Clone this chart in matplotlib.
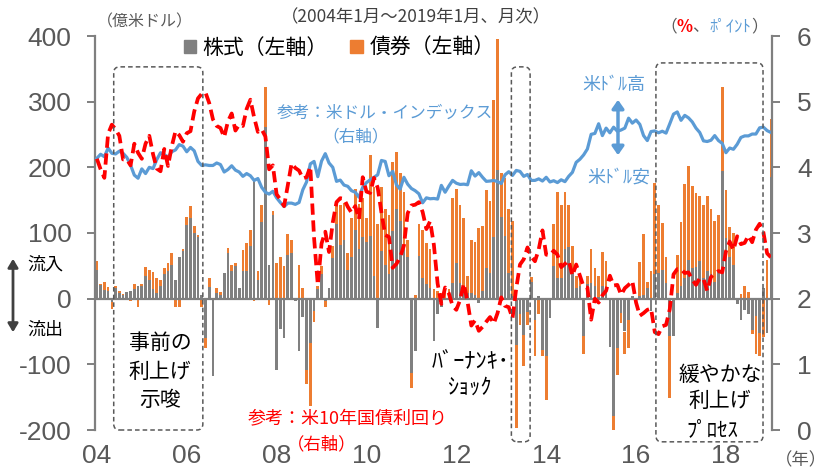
import numpy as np
import matplotlib
matplotlib.use('Agg')
import matplotlib.pyplot as plt
from matplotlib.patches import FancyBboxPatch, Patch

plt.rcParams['font.family'] = ['Noto Sans CJK JP', 'DejaVu Sans']
plt.rcParams['axes.unicode_minus'] = False

# monthly flows, Jan 2004 - Jan 2019 (100 million USD)
stock = [
    44, 21, 13, 11, -5, 16, 9, 6, 10, 12, 15, 19,
    20, 34, 29, 14, 9, 19, 37, 42, 51, 28, 64, 72,
    112, 123, 100, 94, 6, -60, 18, -118, 9, 6, 39, 70,
    42, 49, 16, 42, 42, 80, 180, 29, 117, 262, 52, 128,
    -108, -46, -60, 66, 70, -3, -80, -28, -108, -68, -19, 14,
    37, -3, 17, 62, 114, 81, 89, 44, 64, 105, 75, 94,
    86, 96, 34, -45, 73, 52, 38, 103, 137, 119, 75, 63,
    -113, -80, 65, 31, 22, 16, -65, -24, -12, 0, 5, 24,
    54, 24, 16, 9, 9, 6, -7, 12, 47, 39, 94, 196,
    124, 96, 39, 4, -70, -24, -55, -20, 26, -32, 4, -78,
    -88, -29, 49, 31, 31, 76, 79, 39, 16, 19, -57, 23,
    24, 19, 3, 19, 9, -73, -179, -75, -22, -50, -32, 4,
    -6, 4, 6, 16, -19, 37, 39, 44, 24, -57, -57, 9,
    20, 31, 59, 47, 48, 57, 31, 42, 38, 26, 40, 194,
    92, 64, 52, -8, -32, -17, -24, -47, -27, -52, 17, -52,
    186,
]
bond = [
    14, 2, 12, 7, -10, 4, 3, 1, 0, -3, 7, -12,
    3, 14, 14, 27, 22, 10, 10, 12, 19, -13, -13, 3,
    13, 18, 10, 3, -13, -15, 13, 0, 7, 4, 0, 7,
    10, 5, 0, 32, 43, 24, -3, 13, 26, 60, -9, 6,
    54, 63, 49, 33, 19, 0, 52, 17, -22, -96, -16, 5,
    12, -10, 0, 18, 32, 61, 57, 26, 59, 62, 69, 60,
    37, 123, 136, 114, 97, 84, 90, 105, 86, 72, 87, 26,
    -23, 6, 48, 73, 63, 59, 14, 11, 9, 11, 9, 129,
    113, 119, 107, 25, 80, 80, 108, 99, 119, 110, 209, 199,
    68, 88, 97, 114, -127, -16, -48, -20, 7, -56, -24, -9,
    -66, 0, 64, 132, 112, 87, 63, 41, 18, 15, -28, 11,
    52, 28, 31, 52, 48, 0, -23, -41, -15, -35, -43, 0,
    0, 52, 92, 9, 42, 139, 103, 71, 39, -94, 0, 58,
    96, 143, 143, 124, 113, 99, 112, 115, 98, 93, 88, 129,
    74, 45, 48, 0, 7, 19, 10, -7, -58, -35, -59, 59,
    87,
]
# US 10y yield (%)
yield10 = [
    4.13, 3.97, 3.84, 4.51, 4.65, 4.58, 4.48, 4.12, 4.12, 4.03, 4.36, 4.22,
    4.13, 4.36, 4.48, 4.20, 3.98, 3.94, 4.28, 4.02, 4.32, 4.55, 4.49, 4.39,
    4.52, 4.55, 4.85, 5.05, 5.12, 5.14, 4.98, 4.73, 4.63, 4.60, 4.46, 4.70,
    4.82, 4.56, 4.65, 4.63, 4.89, 5.03, 4.76, 4.54, 4.58, 4.47, 3.97, 4.03,
    3.59, 3.51, 3.41, 3.73, 4.06, 3.99, 3.95, 3.83, 3.85, 4.01, 2.93, 2.21,
    2.84, 3.02, 2.71, 3.16, 3.47, 3.53, 3.52, 3.40, 3.31, 3.41, 3.21, 3.85,
    3.63, 3.61, 3.84, 3.69, 3.31, 2.97, 2.94, 2.47, 2.53, 2.63, 2.81, 3.30,
    3.42, 3.43, 3.47, 3.32, 3.06, 3.18, 2.82, 2.23, 1.92, 2.17, 2.08, 1.89,
    1.83, 1.98, 2.23, 1.95, 1.59, 1.67, 1.51, 1.57, 1.65, 1.72, 1.62, 1.78,
    2.02, 1.89, 1.87, 1.70, 2.16, 2.52, 2.60, 2.78, 2.64, 2.57, 2.75, 3.04,
    2.67, 2.66, 2.73, 2.67, 2.48, 2.53, 2.58, 2.35, 2.52, 2.35, 2.18, 2.17,
    1.68, 2.00, 1.94, 2.05, 2.12, 2.35, 2.20, 2.21, 2.06, 2.16, 2.21, 2.27,
    1.94, 1.74, 1.78, 1.83, 1.85, 1.49, 1.46, 1.58, 1.60, 1.84, 2.37, 2.45,
    2.45, 2.39, 2.40, 2.29, 2.21, 2.31, 2.30, 2.12, 2.33, 2.38, 2.42, 2.40,
    2.72, 2.87, 2.74, 2.95, 2.83, 2.85, 2.96, 2.86, 3.05, 3.14, 3.01, 2.69,
    2.63,
]
# dollar index (points)
dxy = [
    87.3, 88.6, 87.8, 90.6, 88.9, 88.7, 89.6, 88.9, 87.6, 85.1, 81.9, 80.9,
    83.9, 82.4, 84.4, 84.0, 86.9, 89.1, 88.5, 87.6, 89.4, 90.0, 91.7, 91.2,
    89.4, 90.8, 89.7, 86.3, 85.0, 85.2, 85.0, 85.0, 85.8, 85.3, 82.9, 83.7,
    84.9, 83.5, 82.9, 81.5, 82.4, 81.7, 80.2, 80.8, 78.0, 76.4, 75.8, 76.7,
    74.6, 73.1, 71.8, 72.9, 72.9, 72.5, 73.1, 77.2, 79.7, 85.5, 86.3, 81.4,
    86.4, 88.8, 85.8, 84.4, 79.9, 80.3, 78.7, 78.3, 76.9, 76.4, 74.8, 78.0,
    79.5, 80.4, 81.2, 82.0, 86.6, 86.3, 81.7, 83.1, 78.8, 77.4, 81.2, 79.0,
    77.6, 76.9, 75.9, 73.0, 74.6, 74.3, 74.4, 74.2, 78.6, 76.4, 78.4, 80.2,
    79.3, 78.9, 79.0, 78.8, 83.3, 81.6, 82.7, 81.2, 79.9, 80.0, 80.2, 79.8,
    79.2, 82.0, 83.0, 81.8, 83.4, 83.1, 81.5, 82.1, 80.2, 80.2, 80.7, 80.0,
    81.2, 79.7, 80.1, 79.5, 80.4, 79.8, 81.5, 82.8, 86.0, 87.0, 88.4, 90.3,
    95.0, 95.3, 98.4, 94.6, 97.0, 95.5, 97.3, 96.0, 96.4, 97.0, 100.2, 98.6,
    99.6, 98.2, 94.6, 93.0, 95.9, 96.1, 95.5, 96.0, 95.4, 98.4, 101.5, 102.2,
    99.5, 101.1, 100.3, 99.0, 97.0, 95.6, 92.9, 92.7, 93.1, 94.6, 93.0, 92.1,
    89.1, 90.6, 90.2, 91.8, 94.0, 94.5, 94.5, 95.1, 95.1, 97.1, 97.3, 96.2,
    95.6,
]
year_labels = ['04', '06', '08', '10', '12', '14', '16', '18']

GRAY = '#808080'
ORANGE = '#ED7D31'
BLUE = '#5B9BD5'
RED = '#FF0000'
AX = '#7F7F7F'
TXT = '#595959'
NUM = 'Liberation Sans'

W, H = 829, 470


def px(x, y):
    # figure-pixel position (from top-left) -> figure fraction
    return x / W, 1 - y / H


fig = plt.figure(figsize=(W / 100, H / 100), dpi=100)
ax = fig.add_axes([95 / W, 40 / H, 677 / W, 394 / H])

months = np.arange(len(stock))
s = np.array(stock)
b = np.array(bond)
bottom = np.where(np.sign(b) == np.sign(s), s, 0)
ax.bar(months, s, width=0.72, color=GRAY, zorder=2)
ax.bar(months, b, bottom=bottom, width=0.72, color=ORANGE, zorder=2)
ax.axhline(0, color=AX, lw=1.6, zorder=3)

ax.set_xlim(-0.5, 180.3)
ax.set_ylim(-200, 400)
ax.set_yticks(range(-200, 401, 100))
ax.set_xticks(range(0, 169, 24))
ax.set_xticklabels(year_labels)
for sp in ['top', 'right', 'bottom']:
    ax.spines[sp].set_visible(False)
ax.spines['left'].set_color(AX)
ax.spines['left'].set_linewidth(1.6)
ax.tick_params(axis='y', length=6, width=1.4, color=AX, pad=11,
               labelsize=19, labelcolor=TXT)
ax.tick_params(axis='x', length=0, pad=10, labelsize=19, labelcolor=TXT)
for lab in ax.get_yticklabels() + ax.get_xticklabels():
    lab.set_fontfamily(NUM)

# dollar index on its own hidden scale
ax3 = ax.twinx()
ax3.set_ylim(0, 126.6)
ax3.axis('off')
ax3.plot(months, dxy, color=BLUE, lw=2.3, solid_joinstyle='round')

ax2 = ax.twinx()
ax2.set_ylim(0, 6)
ax2.set_yticks(range(0, 7))
ax2.plot(months, yield10, color=RED, lw=2.7, dashes=(3, 1.5))
for sp in ['top', 'left', 'bottom']:
    ax2.spines[sp].set_visible(False)
ax2.spines['right'].set_color(AX)
ax2.spines['right'].set_linewidth(1.6)
ax2.tick_params(axis='y', length=6, width=1.4, color=AX, pad=12,
                labelsize=19, labelcolor=TXT)
for lab in ax2.get_yticklabels():
    lab.set_fontfamily(NUM)

# dashed period boxes (data coords)
for x0, x1, y0, y1 in [(4.5, 28.3, -200, 353), (110.7, 115.7, -218, 353),
                       (149.3, 177.9, -218, 359)]:
    box = FancyBboxPatch((x0, y0), x1 - x0, y1 - y0,
                         boxstyle='round,pad=0,rounding_size=1.6',
                         mutation_aspect=5.7, fc='none', ec='#595959',
                         lw=1.1, ls=(0, (3, 2)), clip_on=False, zorder=5,
                         transform=ax.transData)
    ax2.add_patch(box)

# legend
handles = [Patch(color=GRAY, label='株式（左軸）'),
           Patch(color=ORANGE, label='債券（左軸）')]
fig.legend(handles=handles, loc='center', bbox_to_anchor=px(339, 48),
           ncol=2, frameon=False, fontsize=15, handlelength=0.6,
           handleheight=0.6, handletextpad=0.3, columnspacing=1.1)

# texts
fig.text(*px(416, 17), '（2004年1月～2019年1月、月次）', ha='center',
         va='center', fontsize=12.5, color='#404040')
fig.text(*px(145, 22), '（億米ドル）', ha='center', va='center',
         fontsize=11.5, color=TXT)

# right-axis unit label, pieces chained one after another
parts = [('%', RED, 'bold'), ('、', TXT, 'normal'),
         ('ﾎﾟｲﾝﾄ', BLUE, 'normal'), ('）', TXT, 'normal')]
prev = fig.text(*px(660, 27), '（', ha='left', va='center', fontsize=12,
                color=TXT)
for piece, col, wt in parts:
    prev = ax2.annotate(piece, xy=(1, 0), xycoords=prev, ha='left',
                        va='bottom', fontsize=12, color=col, fontweight=wt,
                        annotation_clip=False)

fig.text(*px(385, 113), '参考：米ドル・インデックス', ha='center', va='center',
         fontsize=12, color=BLUE)
fig.text(*px(356, 137), '（右軸）', ha='center', va='center', fontsize=12,
         color=BLUE)
fig.text(*px(614, 85), '米ﾄﾞﾙ高', ha='center', va='center', fontsize=13,
         color=BLUE)
fig.text(*px(619, 178), '米ﾄﾞﾙ安', ha='center', va='center', fontsize=13,
         color=BLUE)
fig.add_artist(plt.Annotation('', xy=px(618, 97), xytext=px(618, 158),
                              xycoords='figure fraction',
                              textcoords='figure fraction',
                              arrowprops=dict(arrowstyle='<|-|>,head_length=0.5,head_width=0.35',
                                              color=BLUE, lw=2.5)))

fig.text(*px(45, 265), '流入', ha='center', va='center', fontsize=13,
         color='black')
fig.text(*px(45, 330), '流出', ha='center', va='center', fontsize=13,
         color='black')
fig.add_artist(plt.Annotation('', xy=px(13, 256), xytext=px(13, 335),
                              xycoords='figure fraction',
                              textcoords='figure fraction',
                              arrowprops=dict(arrowstyle='<|-|>,head_length=0.5,head_width=0.3',
                                              color='#404040', lw=2)))

fig.text(*px(348, 418), '参考：米10年国債利回り', ha='center', va='center',
         fontsize=13, color=RED)
fig.text(*px(322, 444), '（右軸）', ha='center', va='center', fontsize=12.5,
         color=RED)

fig.text(*px(160, 343), '事前の', ha='center', va='center', fontsize=15)
fig.text(*px(160, 372), '利上げ', ha='center', va='center', fontsize=15)
fig.text(*px(160, 400), '示唆', ha='center', va='center', fontsize=15)

fig.text(*px(471, 362), 'ﾊﾞｰﾅﾝｷ･', ha='center', va='center', fontsize=16)
fig.text(*px(470, 387), 'ｼｮｯｸ', ha='center', va='center', fontsize=16)

fig.text(*px(720, 375), '緩やかな', ha='center', va='center', fontsize=15)
fig.text(*px(720, 401), '利上げ', ha='center', va='center', fontsize=15)
fig.text(*px(712, 430), 'ﾌﾟﾛｾｽ', ha='center', va='center', fontsize=15)

fig.text(*px(827, 460), '（年）', ha='right', va='center', fontsize=12.5,
         color=TXT)

fig.savefig('out.png', dpi=100)
